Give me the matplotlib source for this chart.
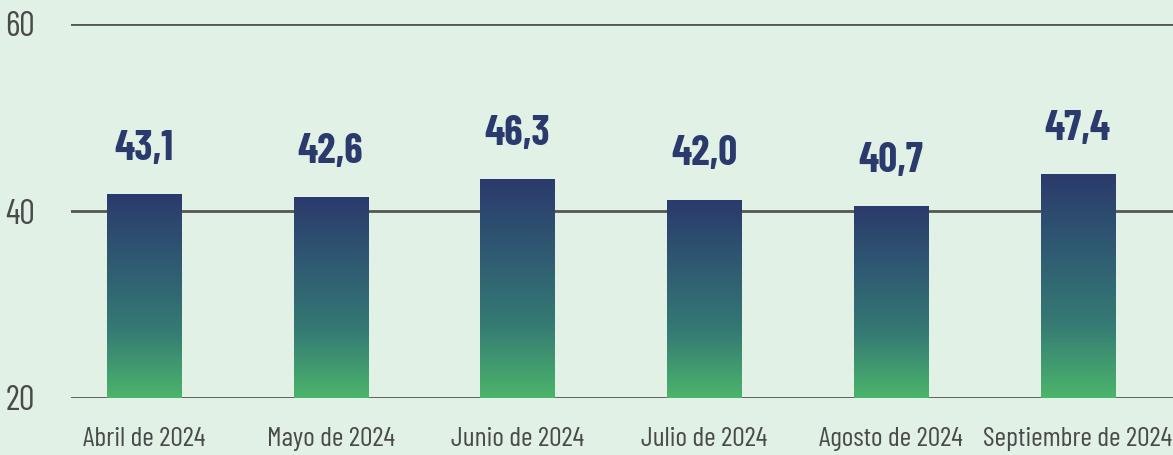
import matplotlib.pyplot as plt
import numpy as np
from matplotlib.colors import LinearSegmentedColormap

# data
months = ['Abril de 2024', 'Mayo de 2024', 'Junio de 2024',
          'Julio de 2024', 'Agosto de 2024', 'Septiembre de 2024']
values = [43.1, 42.6, 46.3, 42.0, 40.7, 47.4]
value_labels = ['43,1', '42,6', '46,3', '42,0', '40,7', '47,4']
y_ticks = [20, 40, 60]

plt.rcParams['font.family'] = ['Barlow Condensed', 'DejaVu Sans']

bg = '#e1f1e6'
navy = '#2b3a6c'
cmap = LinearSegmentedColormap.from_list('g', ['#4bb56b', '#357a74', '#2f5a72', navy])

fig = plt.figure(figsize=(11.73, 4.55), dpi=100, facecolor=bg)
ax = fig.add_axes([71 / 1173, 1 - 398 / 455, 1 - 71 / 1173, (398 - 24) / 455])
ax.set_facecolor(bg)
ax.set_ylim(20, 60)
ax.set_yticks(y_ticks)
ax.grid(axis='y', color='#555555', linewidth=2)
ax.set_axisbelow(True)
for s in ax.spines.values():
    s.set_visible(False)
ax.tick_params(axis='y', length=0, labelsize=25, labelcolor='#4a4a4a', pad=26)
ax.tick_params(axis='x', length=0, labelsize=20, labelcolor='#4a4a4a', pad=21)

x = np.arange(len(months))
ax.set_xlim(-0.39, 5.51)
ax.set_xticks(x)
ax.set_xticklabels(months)

# bars live on their own scale
ax2 = ax.twinx()
ax2.set_ylim(0, 79.4)
ax2.patch.set_visible(False)
ax2.set_yticks([])
for s in ax2.spines.values():
    s.set_visible(False)

grad = np.linspace(0, 1, 256).reshape(-1, 1)
bars = ax2.bar(x, values, width=0.397, color='none')
for b, lab in zip(bars, value_labels):
    x0, y0 = b.get_x(), b.get_y()
    w, h = b.get_width(), b.get_height()
    ax2.imshow(grad, cmap=cmap, origin='lower', aspect='auto',
               extent=[x0, x0 + w, y0, y0 + h], zorder=2)
    ax2.annotate(lab, (x0 + w / 2, h), xytext=(0, 25), textcoords='offset points',
                 ha='center', va='baseline', fontsize=30, fontweight='bold',
                 color=navy)
ax2.set_xlim(-0.39, 5.51)
ax2.set_ylim(0, 79.4)

fig.savefig('out.png', dpi=100, facecolor=bg)
